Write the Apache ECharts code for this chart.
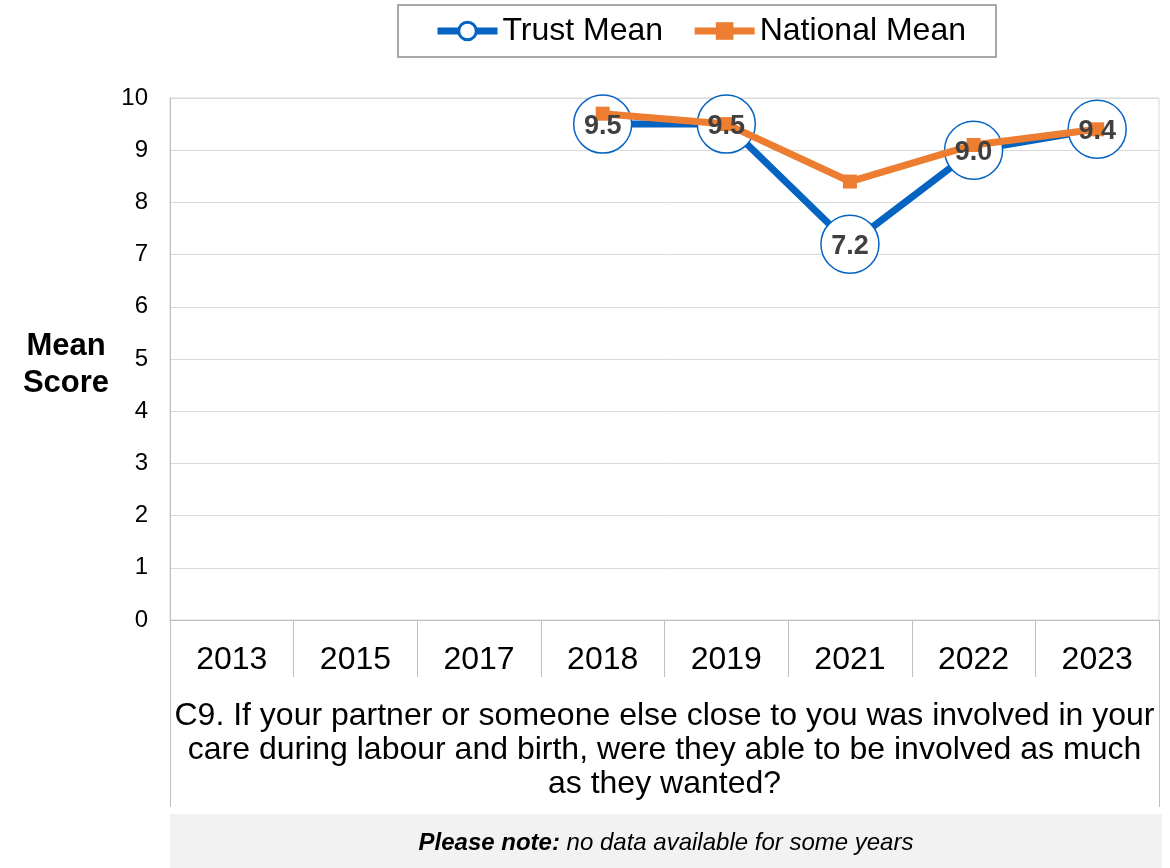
<!DOCTYPE html>
<html>
<head>
<meta charset="utf-8">
<script src="https://cdn.jsdelivr.net/npm/echarts@6/dist/echarts.min.js"></script>
<style>
html,body{margin:0;padding:0;background:#fff;}
#chart{width:1170px;height:868px;}
</style>
</head>
<body>
<div id="chart"></div>
<script>
const years = ['2013','2015','2017','2018','2019','2021','2022','2023'];
const trustMean = [null, null, null, 9.5, 9.5, 7.2, 9.0, 9.4];
const nationalMean = [null, null, null, 9.7, 9.5, 8.4, 9.1, 9.4];
const yTicks = {min: 0, max: 10, interval: 1};
const question = 'C9. If your partner or someone else close to you was involved in your\ncare during labour and birth, were they able to be involved as much\nas they wanted?';
const yTitle = 'Mean\nScore';
const noteBold = 'Please note:';
const noteText = ' no data available for some years';

const FONT = '"Liberation Sans", Arial, sans-serif';
const BLUE = '#0563c1';
const ORANGE = '#ed7d31';

const chart = echarts.init(document.getElementById('chart'), null, {renderer: 'canvas'});
chart.setOption({
  animation: false,
  textStyle: {fontFamily: FONT},
  grid: {left: 170, right: 11, top: 98, bottom: 248, show: true, borderColor: '#d9d9d9', borderWidth: 1},
  legend: {
    left: 398, top: 5,
    padding: [10, 30, 10, 36],
    itemGap: 28,
    itemWidth: 60, itemHeight: 22,
    borderColor: '#8c8c8c', borderWidth: 1.5,
    textStyle: {fontSize: 32, color: '#000', fontFamily: FONT},
    data: [
      {name: 'Trust Mean', itemStyle: {borderWidth: 3}, lineStyle: {width: 7}},
      {name: 'National Mean', lineStyle: {width: 7}}
    ]
  },
  xAxis: [{
    type: 'category', data: years, position: 'bottom', boundaryGap: true,
    axisLine: {show: true, lineStyle: {color: '#bfbfbf', width: 1}},
    axisTick: {show: true, length: 57, interval: 0, lineStyle: {color: '#bfbfbf', width: 1}},
    axisLabel: {fontSize: 32, color: '#000', margin: 24, interval: 0, fontFamily: FONT}
  }, {
    type: 'category', data: [question], position: 'bottom', offset: 57, gridIndex: 0,
    axisLine: {show: false},
    axisTick: {show: true, length: 130, lineStyle: {color: '#bfbfbf', width: 1}},
    axisLabel: {fontSize: 32, color: '#000', margin: 22, lineHeight: 34, align: 'center', fontFamily: FONT}
  }],
  yAxis: {
    type: 'value', min: yTicks.min, max: yTicks.max, interval: yTicks.interval,
    axisLine: {show: true, lineStyle: {color: '#bfbfbf'}},
    axisTick: {show: false},
    axisLabel: {fontSize: 24, color: '#000', margin: 22, fontFamily: FONT},
    splitLine: {lineStyle: {color: '#d9d9d9', width: 1}}
  },
  series: [{
    name: 'Trust Mean', type: 'line', data: trustMean, z: 2,
    symbol: 'circle', symbolSize: 58,
    itemStyle: {color: '#fff', borderColor: BLUE, borderWidth: 1.5},
    lineStyle: {color: BLUE, width: 7},
    silent: true
  }, {
    name: 'National Mean', type: 'line', data: nationalMean, z: 3,
    symbol: 'rect', symbolSize: 14,
    itemStyle: {color: ORANGE},
    lineStyle: {color: ORANGE, width: 7},
    silent: true
  }, {
    name: 'Trust Mean labels', type: 'scatter', data: trustMean, z: 4,
    symbol: 'circle', symbolSize: 58,
    itemStyle: {color: 'rgba(0,0,0,0)', opacity: 1},
    label: {show: true, position: 'inside', fontSize: 27, fontWeight: 'bold', color: '#404040',
      textBorderWidth: 0, opacity: 1, fontFamily: FONT, offset: [0, 2],
      formatter: p => p.value == null ? '' : Number(p.value).toFixed(1)},
    silent: true
  }],
  graphic: [{
    type: 'text', x: 66, y: 365,
    style: {text: yTitle, align: 'center', verticalAlign: 'middle', font: 'bold 31px ' + FONT, fill: '#000', lineHeight: 37},
    z: 10
  }, {
    type: 'rect', shape: {x: 170, y: 814, width: 992, height: 54}, style: {fill: '#f2f2f2'}, z: -1
  }, {
    type: 'text', x: 666, y: 843,
    style: {
      text: '{b|' + noteBold + '}{i|' + noteText + '}',
      align: 'center', verticalAlign: 'middle',
      rich: {
        b: {fontSize: 24, fontWeight: 'bold', fontStyle: 'italic', fontFamily: FONT, fill: '#000', color: '#000'},
        i: {fontSize: 24, fontStyle: 'italic', fontFamily: FONT, fill: '#000', color: '#000'}
      }
    }
  }]
});
</script>
</body>
</html>
